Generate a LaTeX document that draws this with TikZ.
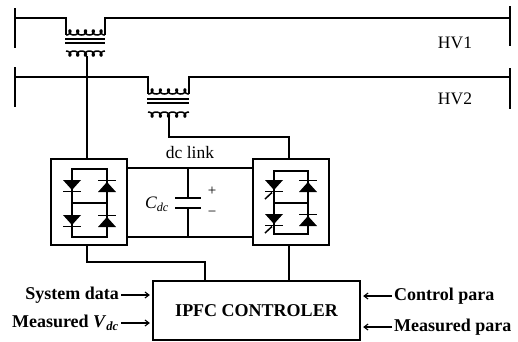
\documentclass[tikz,border=0pt]{standalone}
\usepackage{fontspec}
\setmainfont{Liberation Serif}
\usetikzlibrary{arrows.meta}
\begin{document}
\begin{tikzpicture}[x=1pt,y=-1pt,
  wire/.style={line width=1.2pt},
  coil/.style={line width=1.5pt},
  busbar/.style={line width=2.6pt},
  core/.style={line width=1.5pt},
  conv/.style={draw, line width=1.6pt, minimum width=76pt, minimum height=86pt, inner sep=0pt},
  txt/.style={inner sep=0pt, font=\fontsize{17.5}{20}\selectfont},
  lbl/.style={inner sep=0pt, font=\fontsize{18}{20}\selectfont\bfseries},
  arr/.style={line width=1.1pt, -{Straight Barb[length=4pt,width=6pt]}, shorten <=2pt, shorten >=2.5pt},
  diodeDn/.pic={\fill (-9,-6) -- (9,-6) -- (0,4) -- cycle; \draw[line width=1.5pt] (-9,5.5) -- (9,5.5);},
  diodeUp/.pic={\fill (-9,6) -- (9,6) -- (0,-4) -- cycle; \draw[line width=1.5pt] (-9,-5.5) -- (9,-5.5);},
  thyDn/.pic={\fill (-9,-6) -- (9,-6) -- (0,4) -- cycle; \draw[line width=1.5pt] (-9,5.5) -- (9,5.5); \draw[line width=1.5pt] (-9,13) -- (-2,6.5);}
]
\useasboundingbox (0,0) rectangle (518,341);

% ---- HV1 bus and transformer T1
\draw[busbar] (15,8) -- (15,48);
\draw[busbar] (510,6) -- (510,46);
\draw[wire] (15,18) -- (66,18) -- (66,35);
\draw[wire] (105,35) -- (105,18) -- (510,18);
\draw[coil] plot[domain=0:10*pi, samples=220, variable=\s] ({66+1.241*\s+2.5*sin(\s r)}, {32.5+2.5*cos(\s r)});
\draw[core] (65,39) -- (105,39);
\draw[core] (65,43) -- (105,43);
\draw[coil] plot[domain=0:10*pi, samples=220, variable=\s] ({66+1.241*\s+2.5*sin(\s r)}, {53.5-2.5*cos(\s r)});
\node[txt] (hv1) at (455,43) {HV1};

% ---- HV2 bus and transformer T2
\draw[busbar] (15,67) -- (15,107);
\draw[busbar] (510,68) -- (510,109);
\draw[wire] (15,77) -- (148,77) -- (148,94);
\draw[wire] (189,94) -- (189,77) -- (510,77);
\draw[coil] plot[domain=0:10*pi, samples=220, variable=\s] ({148+1.305*\s+2.5*sin(\s r)}, {91.5+2.5*cos(\s r)});
\draw[core] (147,99) -- (189,99);
\draw[core] (147,103) -- (189,103);
\draw[coil] plot[domain=0:10*pi, samples=220, variable=\s] ({148+1.305*\s+2.5*sin(\s r)}, {114.5-2.5*cos(\s r)});
\node[txt] (hv2) at (455,99) {HV2};

% ---- converters
\node[conv] (c1) at (89,202) {};
\node[conv] (c2) at (291,202) {};

\draw[wire] (72,169) rectangle (107,237);
\draw[wire] (72,203) -- (107,203);
\pic at (72,186) {diodeDn};
\pic at (72,221) {diodeDn};
\pic at (107,186) {diodeUp};
\pic at (107,221) {diodeUp};

\draw[wire] (274,171) rectangle (308,234);
\draw[wire] (274,203) -- (308,203);
\pic at (274,186) {thyDn};
\pic at (274,220) {thyDn};
\pic at (308,186) {diodeUp};
\pic at (308,220) {diodeUp};

% ---- dc link
\draw[wire] (c1.east |- 0,168) -- (c2.west |- 0,168);
\draw[wire] (c1.east |- 0,237) -- (c2.west |- 0,237);
\draw[wire] (188,168) -- (188,198);
\draw[line width=2pt] (175,198) -- (201,198);
\draw[line width=2pt] (175,208) -- (201,208);
\draw[wire] (188,208) -- (188,237);
\node[txt] (dclink) at (190,153) {dc link};
\node[txt] (cdc) at (157,204) {\itshape C\textsubscript{dc}};
\node[txt, font=\fontsize{15}{17}\selectfont] (plus) at (212,191) {+};
\node[txt, font=\fontsize{15}{17}\selectfont] (minus) at (212,214) {−};

% ---- controller
\node[draw, line width=1.3pt, minimum width=207pt, minimum height=59pt, inner sep=0pt,
      font=\fontsize{18}{20}\selectfont\bfseries] (ctrl) at (256.5,310.5) {IPFC CONTROLER};

% ---- transformer leads to converters
\coordinate (t1s) at (87,56);
\coordinate (t2s) at (169,117);
\draw[wire] (t1s) -- (t1s |- c1.north);
\draw[wire] (t2s) -- (169,137) -| ([xshift=-2pt]c2.north);

% ---- converters to controller
\draw[wire] (t1s |- c1.south) -- (87,262) -| ([xshift=-51.5pt]ctrl.north);
\draw[wire] ([xshift=-2pt]c2.south) -- ([xshift=-2pt]c2.south |- ctrl.north);

% ---- controller inputs
\node[lbl, anchor=east] (sd) at (119,295) {System data};
\node[lbl, anchor=east] (mv) at (119,323) {Measured \textit{V}\textsubscript{\textit{dc}}};
\node[lbl, anchor=west] (cpara) at (394,296) {Control para};
\node[lbl, anchor=west] (mpara) at (394,327) {Measured para};
\draw[arr] (sd.east) -- (sd.east -| ctrl.west);
\draw[arr] (mv.east) -- (mv.east -| ctrl.west);
\draw[arr] (cpara.west) -- (cpara.west -| ctrl.east);
\draw[arr] (mpara.west) -- (mpara.west -| ctrl.east);
\end{tikzpicture}
\end{document}
